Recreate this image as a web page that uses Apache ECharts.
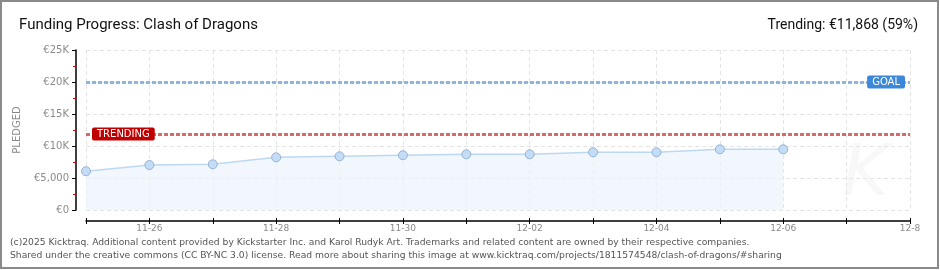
<!DOCTYPE html>
<html><head><meta charset="utf-8">
<script src="https://cdn.jsdelivr.net/npm/echarts@6/dist/echarts.min.js"></script>
<style>html,body{margin:0;padding:0;background:#fff}#c{width:940px;height:270px}</style>
</head><body><div id="c"></div>
<script>
const categories = ['11-25','11-26','11-27','11-28','11-29','11-30','12-01','12-02','12-03','12-04','12-05','12-06','12-07','12-08'];
const tickLabels = ['','11-26','','11-28','','11-30','','12-02','','12-04','','12-06','','12-8'];
const pledged = [6050, 7030, 7140, 8230, 8390, 8550, 8700, 8700, 9020, 9020, 9480, 9480, null, null];
const goal = 20000;
const trending = 11868;
const yTickLabels = {0:'€0',5000:'€5,000',10000:'€10K',15000:'€15K',20000:'€20K',25000:'€25K'};

const chart = echarts.init(document.getElementById('c'), null, {renderer:'canvas'});
const axisFont = {fontFamily:'DejaVu Sans', fontSize:9, color:'#8a8a8a'};
chart.setOption({
  animation:false,
  title:[
    {text:'Funding Progress: Clash of Dragons', left:14, top:13, textStyle:{fontFamily:'Roboto', fontWeight:'normal', fontSize:15, color:'#111'}},
    {text:'Trending: €11,868 (59%)', right:17, top:13, textStyle:{fontFamily:'Roboto', fontWeight:'normal', fontSize:14, color:'#111'}}
  ],
  grid:{left:86, right:30, top:50, bottom:60},
  xAxis:[{
    type:'category', data:categories, boundaryGap:false, offset:11,
    axisLine:{onZero:false, lineStyle:{color:'#000', width:1.5}},
    axisTick:{interval:0, length:3, lineStyle:{color:'#000'}},
    axisLabel:Object.assign({interval:0, margin:3, formatter:(v,i)=>tickLabels[i]}, axisFont),
    splitLine:{show:true, interval:0, lineStyle:{color:'#e4e4e4', type:[4,3]}}
  },{
    type:'category', data:categories, boundaryGap:false, offset:11, position:'bottom',
    axisLine:{show:false, onZero:false},
    axisTick:{interval:0, inside:true, length:3, lineStyle:{color:'#000'}},
    axisLabel:{show:false}, splitLine:{show:false}
  }],
  yAxis:{
    type:'value', min:0, max:25000, interval:5000, offset:10,
    name:'PLEDGED', nameLocation:'middle', nameGap:54, nameRotate:90,
    nameTextStyle:{fontFamily:'DejaVu Sans', fontSize:10, color:'#8a8a8a'},
    axisLine:{show:true, onZero:false, lineStyle:{color:'#000', width:1.5}},
    axisTick:{show:true, length:4, lineStyle:{color:'#000'}},
    minorTick:{show:true, splitNumber:2, length:3, lineStyle:{color:'#e00000'}},
    axisLabel:Object.assign({}, axisFont, {margin:7, fontSize:10, formatter:v=>yTickLabels[v]}),
    splitLine:{show:true, lineStyle:{color:'#e4e4e4', type:[4,3]}}
  },
  series:[{
    type:'line', data:pledged, symbol:'circle', symbolSize:9,
    itemStyle:{color:'#c4dcf6', borderColor:'#93b2d4', borderWidth:1},
    lineStyle:{color:'#bcd8f2', width:1.5},
    areaStyle:{color:'#edf4fd'},
    markLine:{
      silent:true, symbol:'none',
      data:[
        {yAxis:goal, lineStyle:{color:'#8db5e2', width:3, type:[4,2]},
          label:{show:true, position:'insideEnd', distance:5, formatter:'GOAL', color:'#fff', fontFamily:'DejaVu Sans', fontSize:10,
            backgroundColor:'#3c87d8', padding:[2,5,1,5], borderRadius:2}},
        {yAxis:trending, lineStyle:{color:'#d46b6b', width:3, type:[4,2]},
          label:{show:true, position:'insideStart', distance:6, formatter:'TRENDING', color:'#fff', fontFamily:'DejaVu Sans', fontSize:10,
            backgroundColor:'#c00000', padding:[2,5,1,5], borderRadius:2}}
      ]
    }
  }],
  graphic:[
    {type:'rect', silent:true, shape:{x:1, y:1, width:937, height:267}, style:{fill:'none', stroke:'#8a8a8a', lineWidth:2}},
    {type:'text', silent:true, left:842, top:140, z:-1, style:{text:'K', font:'italic 72px DejaVu Sans', fill:'#f8f8f8'}},
    {type:'text', silent:true, left:10, top:238, style:{text:'(c)2025 Kicktraq. Additional content provided by Kickstarter Inc. and Karol Rudyk Art. Trademarks and related content are owned by their respective companies.', font:'9.2px DejaVu Sans', fill:'#555'}},
    {type:'text', silent:true, left:10, top:251, style:{text:'Shared under the creative commons (CC BY-NC 3.0) license. Read more about sharing this image at www.kicktraq.com/projects/1811574548/clash-of-dragons/#sharing', font:'9.2px DejaVu Sans', fill:'#555'}}
  ]
});
</script></body></html>
